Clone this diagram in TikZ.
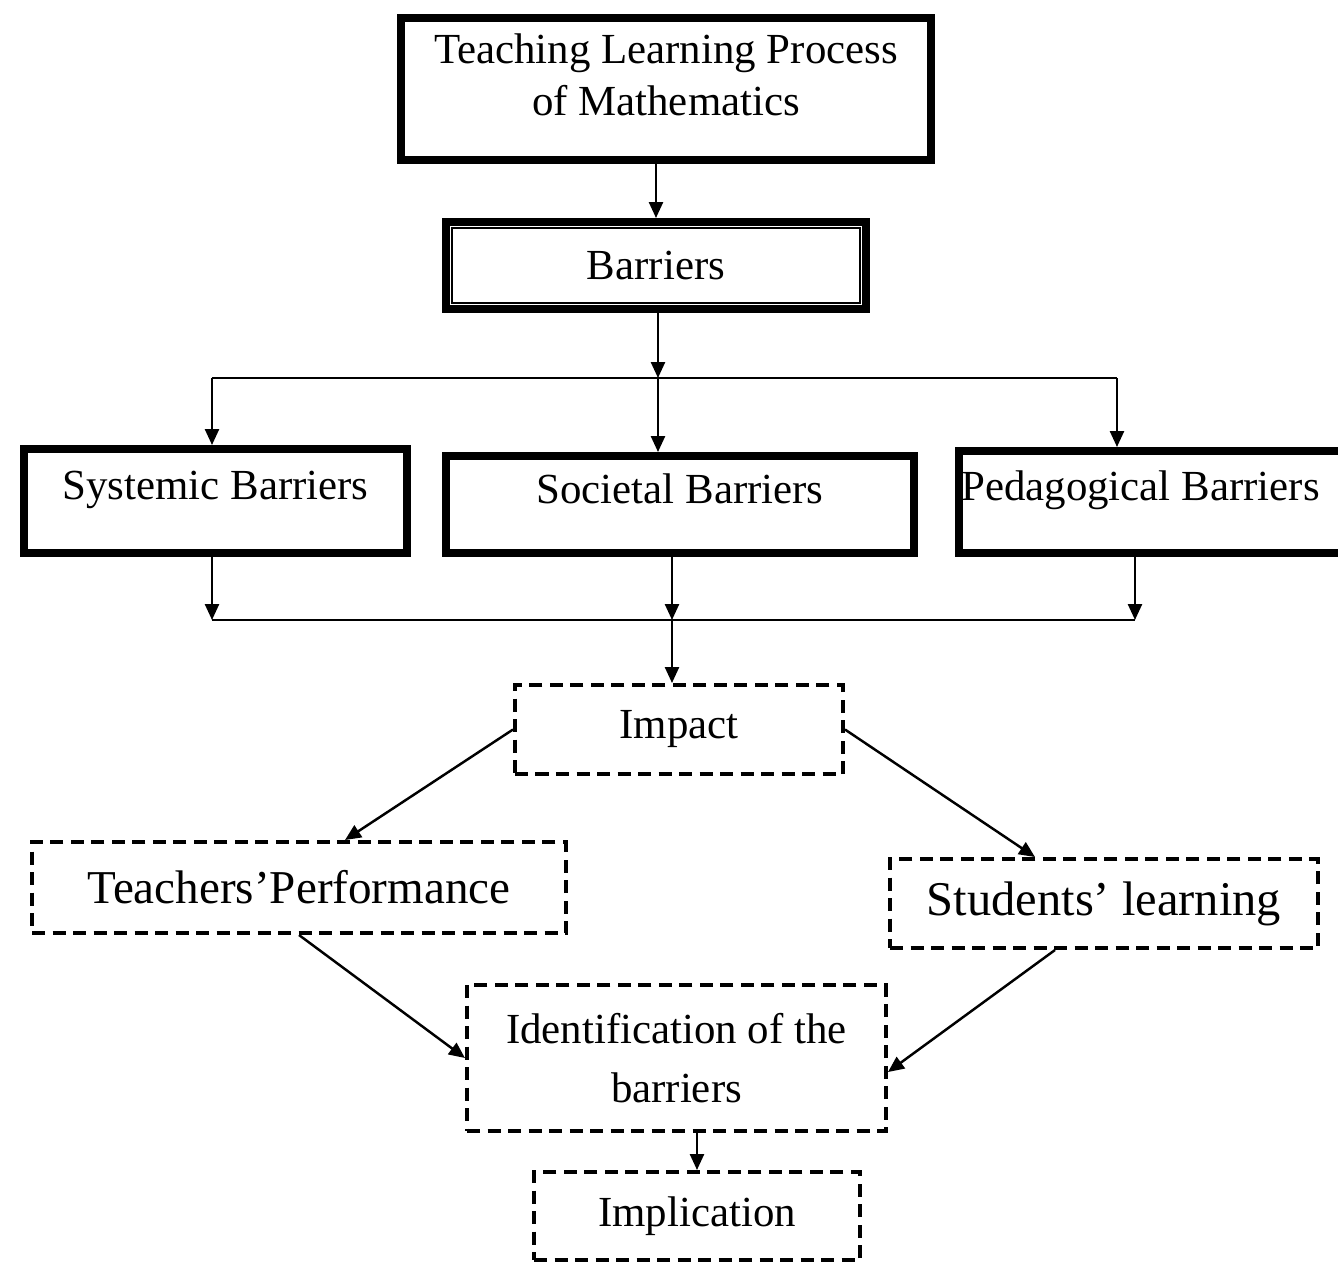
\documentclass[tikz,border=0pt]{standalone}
\usepackage{fontspec}
\setmainfont{Liberation Serif}
\usetikzlibrary{arrows.meta}

\begin{document}
\begin{tikzpicture}[
        font=\fontsize{12.2}{14.8}\selectfont,
        heavybox/.style={draw, line width=0.08cm, inner sep=0pt, align=center},
        dashbox/.style={draw, line width=0.04cm, dash pattern=on 0.13cm off 0.075cm, inner sep=0pt, align=center},
        lifted/.style={text height=0.3cm, text depth=0.33cm},
        arr/.style={line width=0.7pt, -{Triangle[length=0.16cm,width=0.14cm]}},
        link/.style={line width=0.7pt}
    ]

            \useasboundingbox (0,0) rectangle (13.38,-12.66);

            % solid boxes
            \node[heavybox, minimum width=5.30cm, minimum height=1.42cm, text depth=0.28cm] (tlp) at (6.66,-0.89) {Teaching Learning Process\\of Mathematics};
            \node[heavybox, minimum width=4.20cm, minimum height=0.87cm] (bar) at (6.56,-2.655) {Barriers};
            \draw[line width=0.6pt] ([shift={(0.1,-0.1)}]bar.north west) rectangle ([shift={(-0.1,0.1)}]bar.south east);

            \node[heavybox, lifted, minimum width=3.83cm, minimum height=1.04cm] (sys) at (2.155,-5.01) {Systemic Barriers};
            \node[heavybox, lifted, minimum width=4.68cm, minimum height=0.97cm] (soc) at (6.80,-5.045) {Societal Barriers};
            \node[heavybox, lifted, minimum width=3.83cm, minimum height=1.02cm] (ped) at (11.505,-5.02) {Pedagogical Barriers\hspace*{0.2cm}};

            % dashed boxes
            \node[dashbox, minimum width=3.28cm, minimum height=0.89cm] (imp) at (6.79,-7.295) {Impact};
            \node[dashbox, font=\fontsize{13.4}{16}\selectfont, minimum width=5.34cm, minimum height=0.91cm] (tea) at (2.99,-8.875) {Teachers’Performance};
            \node[dashbox, font=\fontsize{13.8}{17}\selectfont, minimum width=4.28cm, minimum height=0.89cm] (stu) at (11.04,-9.035) {Students’ learning};
            \node[dashbox, font=\fontsize{12.2}{17}\selectfont, minimum width=4.19cm, minimum height=1.46cm] (idb) at (6.765,-10.58) {Identification of the\\barriers};
            \node[dashbox, minimum width=3.26cm, minimum height=0.88cm] (imc) at (6.97,-12.16) {Implication};

            % branching
            \coordinate (split) at (6.58,-3.78);
            \coordinate (brL) at (2.12,-3.78);
            \coordinate (brR) at (11.17,-3.78);
            \coordinate (jnL) at (2.12,-6.20);
            \coordinate (jnM) at (6.72,-6.20);
            \coordinate (jnR) at (11.35,-6.20);

            \draw[arr] (tlp.south -| bar.north) -- (bar.north);
            \draw[arr] (bar.south -| split) -- (split);
            \draw[link] (brL) -- (brR);
            \draw[arr] (brL) -- (brL |- sys.north);
            \draw[arr] (split) -- (split |- soc.north);
            \draw[arr] (brR) -- (brR |- ped.north);

            \draw[arr] (sys.south -| jnL) -- (jnL);
            \draw[arr] (soc.south -| jnM) -- (jnM);
            \draw[arr] (ped.south -| jnR) -- (jnR);
            \draw[link] (jnL) -- (jnR);
            \draw[arr] (jnM) -- (jnM |- imp.north);

            \draw[arr] (imp.west) -- ([xshift=0.46cm]tea.north);
            \draw[arr] (imp.east) -- ([xshift=-0.69cm]stu.north);
            \draw[arr] (tea.south) -- (idb.west);
            \draw[arr] ([xshift=-0.49cm]stu.south) -- ([yshift=-0.14cm]idb.east);
            \draw[arr] (idb.south -| imc.north) -- (imc.north);

        \end{tikzpicture}
\end{document}
